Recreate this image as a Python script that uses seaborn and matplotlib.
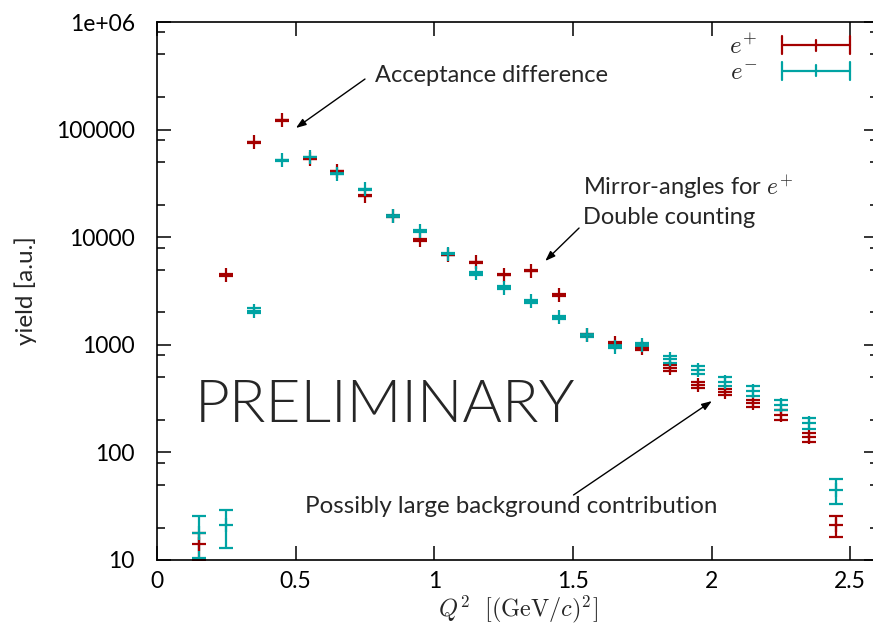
import numpy as np
import pandas as pd
import matplotlib
matplotlib.use("Agg")
import matplotlib.pyplot as plt
import seaborn as sns
from matplotlib.lines import Line2D
from matplotlib.legend_handler import HandlerBase
from matplotlib.ticker import FixedLocator, LogLocator, NullFormatter, FixedFormatter

# ---------------- data ----------------
q2 = [0.15, 0.25, 0.35, 0.45, 0.55, 0.65, 0.75, 0.85, 0.95, 1.05, 1.15, 1.25,
      1.35, 1.45, 1.55, 1.65, 1.75, 1.85, 1.95, 2.05, 2.15, 2.25, 2.35, 2.45]

yield_pos = [14, 4450, 76000, 122000, 53500, 41000, 24300, 15700, 9400, 6900,
             5850, 4500, 4900, 2900, 1230, 1030, 930, 610, 423, 367, 286, 223, 138, 21]
err_pos = [4, 60, 700, 1100, 500, 400, 250, 180, 130, 100, 90, 80,
           85, 50, 28, 28, 30, 37, 27, 22, 22, 24, 13.5, 4.5]

yield_neg = [18, 21, 2075, 51800, 55500, 39000, 27800, 15700, 11400, 6950,
             4600, 3400, 2540, 1800, 1230, 960, 1000, 733, 583, 454, 374, 276, 187, 45]
err_neg = [7.5, 8, 100, 700, 700, 550, 400, 250, 200, 130, 120, 100,
           90, 60, 40, 35, 45, 53, 51, 43, 39, 30, 23, 12]

series_labels = [r"$e^{+}$", r"$e^{-}$"]
series_colors = ["#a40000", "#00a3a3"]

x_ticks = [0, 0.5, 1, 1.5, 2, 2.5]
x_tick_labels = ["0", "0.5", "1", "1.5", "2", "2.5"]
y_ticks = [10, 100, 1000, 10000, 100000, 1000000]
y_tick_labels = ["10", "100", "1000", "10000", "100000", "1e+06"]

df = pd.DataFrame({
    "q2": q2 + q2,
    "y": yield_pos + yield_neg,
    "err": err_pos + err_neg,
    "series": [series_labels[0]] * len(q2) + [series_labels[1]] * len(q2),
})

# ---------------- style ----------------
sns.set_theme(style="ticks")
plt.rcParams["font.family"] = ["Lato", "DejaVu Sans"]
plt.rcParams["mathtext.fontset"] = "cm"
plt.rcParams["axes.linewidth"] = 1.2

fig = plt.figure(figsize=(8.73, 6.30), dpi=100)
W, H = 873, 630
ax = fig.add_axes([157 / W, (H - 560) / H, (878 - 157) / W, (560 - 22) / H])

for lab, col in zip(series_labels, series_colors):
    sub = df[df["series"] == lab]
    ax.errorbar(sub["q2"], sub["y"], yerr=sub["err"], fmt="+", color=col,
                ms=10.5, mew=1.6, elinewidth=1.6, capsize=5.2, capthick=1.6)

ax.set_yscale("log")
ax.set_xlim(0, 2.6)
ax.set_ylim(10, 1e6)

ax.xaxis.set_major_locator(FixedLocator(x_ticks))
ax.xaxis.set_major_formatter(FixedFormatter(x_tick_labels))
ax.yaxis.set_major_locator(FixedLocator(y_ticks))
ax.yaxis.set_major_formatter(FixedFormatter(y_tick_labels))
ax.yaxis.set_minor_locator(LogLocator(base=10, subs=[2, 5, 8]))
ax.yaxis.set_minor_formatter(NullFormatter())

ax.tick_params(which="both", direction="in", top=True, right=True,
               labelsize=16.5, colors="black", width=1.1)
ax.tick_params(which="major", length=10)
ax.tick_params(which="minor", length=5.5)
ax.tick_params(axis="y", which="major", pad=16)
ax.tick_params(axis="x", which="major", pad=8)
for s in ax.spines.values():
    s.set_color("black")

ax.set_ylabel("yield [a.u.]", fontsize=17.5)
ax.yaxis.set_label_coords((37 - 157) / 721, 0.5)
ax.set_xlabel(r"$Q^2\ \ [(\mathrm{GeV}/c)^2]$", fontsize=17.5, labelpad=1)

# ---------------- annotations ----------------
arrow_kw = dict(arrowstyle="-|>,head_length=0.5,head_width=0.18", color="black",
                lw=1.0, shrinkA=0, shrinkB=0)
ax.annotate("", xy=(0.501, 103500), xytext=(0.75, 295000), arrowprops=arrow_kw)
ax.text(0.786, 315000, "Acceptance difference", fontsize=17, va="center", ha="left")

ax.annotate("", xy=(1.40, 6010), xytext=(1.522, 12170), arrowprops=arrow_kw)
ax.text(1.537, 29300, r"Mirror-angles for $e^{+}$", fontsize=17, va="center", ha="left")
ax.text(1.537, 15400, "Double counting", fontsize=17, va="center", ha="left")

ax.annotate("", xy=(2.001, 300), xytext=(1.502, 40.2), arrowprops=arrow_kw)
ax.text(0.534, 31.1, "Possibly large background contribution", fontsize=17.4,
        va="center", ha="left")

ax.text(0.137, 275, "PRELIMINARY", fontsize=43.5, fontweight=300,
        va="center", ha="left")

# ---------------- legend ----------------
class ErrBarHandler(HandlerBase):
    def create_artists(self, legend, orig_handle, xdescent, ydescent, width,
                       height, fontsize, trans):
        c = orig_handle.get_color()
        y = height / 2 - ydescent
        x0, x1 = -xdescent, width - xdescent
        h = 6.5
        arts = [
            Line2D([x0, x1], [y, y], color=c, lw=1.6),
            Line2D([x0, x0], [y - h, y + h], color=c, lw=1.6),
            Line2D([x1, x1], [y - h, y + h], color=c, lw=1.6),
            Line2D([(x0 + x1) / 2] * 2, [y - 4, y + 4], color=c, lw=1.6),
        ]
        for a in arts:
            a.set_transform(trans)
        return arts

handles = [Line2D([], [], color=c) for c in series_colors]
ax.legend(handles, series_labels, handler_map={Line2D: ErrBarHandler()},
          loc="upper right", bbox_to_anchor=(0.961, 0.978), frameon=False,
          markerfirst=False, fontsize=18, handlelength=2.7, handletextpad=1.0,
          labelspacing=0.1, borderpad=0, borderaxespad=0)

fig.savefig("out.png", dpi=100)
